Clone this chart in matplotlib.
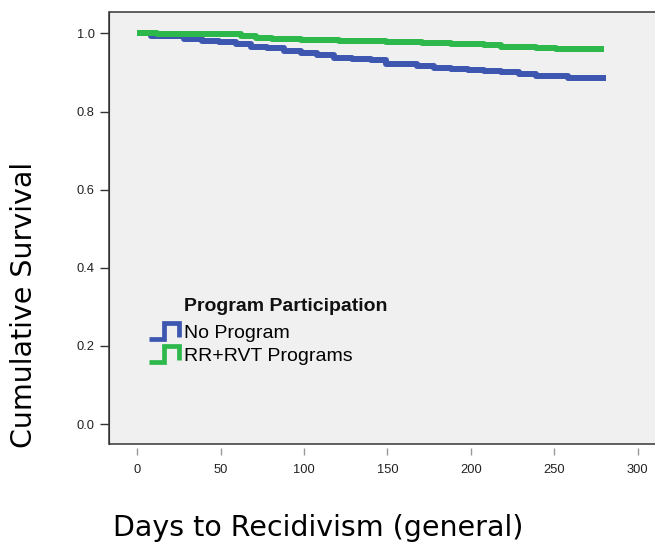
import matplotlib
matplotlib.use("Agg")
import matplotlib.pyplot as plt
from matplotlib.lines import Line2D
from matplotlib.legend_handler import HandlerBase

# survival curves (days, cumulative survival)
no_program_days = [0, 8, 28, 39, 49, 59, 68, 78, 88, 98, 108, 118, 129, 140,
                   149, 158, 168, 178, 188, 198, 208, 218, 229, 239, 258, 268, 281]
no_program_surv = [1.000, 0.993, 0.985, 0.980, 0.978, 0.973, 0.966, 0.963, 0.955,
                   0.951, 0.945, 0.938, 0.934, 0.931, 0.923, 0.921, 0.917, 0.912,
                   0.908, 0.907, 0.904, 0.900, 0.896, 0.891, 0.887, 0.885, 0.885]

rr_days = [0, 12, 62, 71, 81, 98, 121, 149, 171, 188, 208, 218, 239, 251, 280]
rr_surv = [1.000, 0.998, 0.994, 0.989, 0.987, 0.983, 0.981, 0.978, 0.976,
           0.973, 0.970, 0.965, 0.963, 0.961, 0.960]

series_labels = ["No Program", "RR+RVT Programs"]
x_ticks = [0, 50, 100, 150, 200, 250, 300]
y_ticks = [0.0, 0.2, 0.4, 0.6, 0.8, 1.0]

BLUE = "#3d57b0"
GREEN = "#2db84b"


class StepHandler(HandlerBase):
    # little square-wave icon like the SPSS legend
    def create_artists(self, legend, orig_handle, xdescent, ydescent,
                       width, height, fontsize, trans):
        x0 = -xdescent
        y0 = -ydescent
        xs = [x0, x0 + 0.48 * width, x0 + 0.48 * width, x0 + width, x0 + width]
        ys = [y0 - 0.08 * height, y0 - 0.08 * height, y0 + 1.08 * height,
              y0 + 1.08 * height, y0 + 0.05 * height]
        line = Line2D(xs, ys, color=orig_handle.get_color(), lw=3.4,
                      solid_joinstyle="miter", solid_capstyle="butt")
        line.set_transform(trans)
        return [line]


fig = plt.figure(figsize=(6.55, 5.48), dpi=100)
ax = fig.add_axes([0.1669, 0.1892, 0.84, 0.789])
ax.set_facecolor("#f0f0f0")
ax.patch.set_edgecolor("#444444")
ax.patch.set_linewidth(1.2)

h1, = ax.step(no_program_days, no_program_surv, where="post", color=BLUE,
              lw=4.3, solid_capstyle="butt")
h2, = ax.step(rr_days, rr_surv, where="post", color=GREEN,
              lw=4.3, solid_capstyle="butt")

ax.set_xlim(-16.7, 313.1)
ax.set_ylim(-0.052, 1.055)

for s in ["top", "right"]:
    ax.spines[s].set_visible(False)
ax.spines["left"].set_color("#333333")
ax.spines["bottom"].set_position(("outward", 3))
ax.spines["bottom"].set_visible(False)

ax.set_xticks(x_ticks)
ax.set_yticks(y_ticks)
ax.set_xticklabels([str(t) for t in x_ticks], fontfamily="Liberation Sans",
                   fontsize=9.3, color="#222222")
ax.set_yticklabels([f"{t:.1f}" for t in y_ticks], fontfamily="Liberation Sans",
                   fontsize=9.3, color="#222222")
ax.tick_params(axis="x", direction="out", length=5, width=1, color="#999999", pad=6)
ax.tick_params(axis="y", direction="out", length=6.5, width=1, color="#333333", pad=4)

leg = ax.legend([h1, h2], series_labels, handler_map={Line2D: StepHandler()},
                loc="upper left", bbox_to_anchor=(0.0727, 0.277), frameon=False,
                borderpad=0, borderaxespad=0, handlelength=1.55, handletextpad=0.25,
                labelspacing=0.27, prop={"family": "Liberation Sans", "size": 14})
ax.text(0.135, 0.318, "Program Participation", transform=ax.transAxes,
        fontfamily="Liberation Sans", fontsize=14, fontweight="bold",
        va="center", ha="left", color="#111111")

fig.text(0.486, 0.037, "Days to Recidivism (general)", fontfamily="DejaVu Sans",
         fontsize=20.5, ha="center", va="center")
fig.text(0.037, 0.443, "Cumulative Survival", fontfamily="DejaVu Sans",
         fontsize=20.5, ha="center", va="center", rotation=90)

fig.savefig("out.png", dpi=100)
